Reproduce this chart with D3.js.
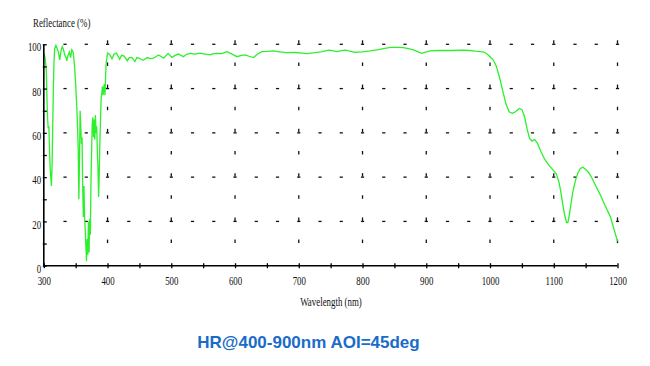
<!DOCTYPE html>
<html>
    <head>
        <script src="https://d3js.org/d3.v7.min.js"></script>
        <style>
            body { margin:0; background:white; }
            svg { display:block; }
            .axis text, .lbl { font-family:"Liberation Serif", serif; font-size:12px; fill:#111; }
            .axis path, .axis line { stroke:#000; }
            .title { font-family:"Liberation Sans", Arial, sans-serif; font-weight:bold; font-size:17px; fill:#1a6cc8; }
        </style>
    </head>
    <body>
        <svg width="650" height="366"></svg>
    </body>
    <script>
        // spectrum: wavelength (nm) and reflectance (%)
        const wavelength = [300,302,304,305,306,307,308,309,310,311,312,313,314,315,316,317,319,321,323,325,
            327,329,331,333,335,336,338,340,342,344,346,348,350,351,352,353,354,355,356,357,
            358,359,360,361,362,363,364,365,366,367,368,369,370,371,372,373,374,375,376,377,
            378,379,380,381,382,383,384,385,386,387,388,389,390,391,392,393,394,395,396,397,
            398,399,400,403,407,410,414,419,422,426,431,434,438,443,446,450,456,462,467,472,
            480,488,495,501,506,511,519,524,530,537,545,553,561,566,571,579,587,593,603,610,
            616,622,629,635,642,650,660,670,681,695,705,713,725,735,747,754,760,767,773,780,
            788,800,812,825,835,844,855,864,872,880,887,893,899,906,920,940,958,968,977,985,
            990,996,1000,1005,1010,1015,1020,1025,1030,1035,1040,1046,1050,1054,1058,1062,1066,1070,1074,1080,
            1086,1092,1098,1104,1108,1111,1114,1117,1120,1122,1124,1127,1130,1134,1138,1142,1146,1150,1155,1160,
            1166,1173,1180,1189,1195,1200];
        const reflectance = [96,94,88,75,66,62,63,52,44,40,36,46,63,80,92,98,99.5,98,96.5,93,
            97,99,97.5,95,94,92.5,95,96.5,94,97.5,96.5,91,82,76,70,62,53,30,48,70,
            63,55,58,36,22,36,22,16,9,2,12,5,20,6,21,14,38,52,64,67,
            58,66,57,68,60,63,52,44,31,42,56,66,76,78,81,77,80,82,77,86,
            92,94,96,95.5,93.5,95.5,96,93.2,95,94.7,92.6,94,94.1,92.2,94,93.7,92.8,94,93.5,93.7,
            95.2,93.7,95.9,94.1,95,95.6,94.4,95.5,95.9,95.6,96,95.6,95.2,95.8,95.9,95.8,96.7,95.9,94.4,95,
            95.2,94.6,94,95.5,96.7,96.8,97,96.6,96.2,96.3,96,95.8,96.2,96.6,97.4,97,96.7,97.1,97.4,96.9,
            96.4,96.6,97,97.6,98.2,98.6,98.6,98.5,98,97.5,96.6,95.9,96.5,97,97.2,97.2,97.4,97.2,96.9,96.7,
            96.5,95.5,94.4,93,90,85,79,73,69.5,68.8,69.5,71,70.5,67.5,62,57.5,56.3,57,55.5,51.5,
            48,45.5,43.5,41.5,38,33.5,28,23,19.5,19.4,22,28,33.5,38.5,42,44,44.5,43.5,42,39.5,
            36,32,27.5,22,16,11];

        const xMajor = d3.range(300, 1201, 100);
        const xMinor = d3.range(300, 1201, 50);
        const yMajor = [0, 20, 40, 60, 80, 100];
        const yMinor = d3.range(0, 101, 10);
        const hGrid = [20, 40, 60, 80, 100];
        const vGrid = d3.range(400, 1201, 100);

        const svg = d3.select('svg');
        const sx = 0.74; // the original lettering is squeezed horizontally

        const xScale = d3.scaleLinear().domain([300, 1200]).range([43.8, 617.5]);
        const yScale = d3.scaleLinear().domain([0, 100]).range([265.7, 44.3]);

        // dotted grid
        const grid = svg.append('g').attr('stroke', '#111').attr('stroke-width', 1.3);
        const hStep = d3.range(300 + 100/3, 1201, 100/3);
        hGrid.forEach(v => {
            grid.selectAll(null).data(hStep).enter().append('line')
                .attr('x1', d => xScale(d) - 1.6).attr('x2', d => xScale(d) + 1.6)
                .attr('y1', yScale(v)).attr('y2', yScale(v));
        });
        vGrid.forEach(w => {
            grid.selectAll(null).data(yMinor.slice(1)).enter().append('line')
                .attr('x1', xScale(w)).attr('x2', xScale(w))
                .attr('y1', d => yScale(d) - 4).attr('y2', d => yScale(d) - 0.5);
        });

        // spectrum
        const pts = wavelength.map((w, i) => [w, reflectance[i]]);
        svg.append('path')
            .datum(pts)
            .attr('fill', 'none')
            .attr('stroke', '#2cf02c')
            .attr('stroke-width', 1.3)
            .attr('d', d3.line().x(d => xScale(d[0])).y(d => yScale(d[1])));

        // axes
        const xAxis = d3.axisBottom(xScale).tickValues(xMinor).tickSize(3)
            .tickFormat(d => d % 100 === 0 ? d : '');
        const gx = svg.append('g').attr('class', 'axis')
            .attr('transform', `translate(0,${yScale(0)})`).call(xAxis);
        gx.select('.domain').attr('stroke-width', 1.6);
        gx.selectAll('.tick line').attr('y1', -2.5).attr('y2', 2.5).attr('stroke-width', 1.3);
        gx.selectAll('.tick text').attr('y', 11).attr('dy', '0.71em')
            .attr('transform', `scale(${sx},1)`);

        const yAxis = d3.axisLeft(yScale).tickValues(yMinor).tickSize(3)
            .tickFormat(d => yMajor.includes(d) ? d : '');
        const gy = svg.append('g').attr('class', 'axis')
            .attr('transform', `translate(${xScale(300)},0)`).call(yAxis);
        gy.select('.domain').attr('stroke-width', 1.6);
        gy.selectAll('.tick line').attr('x1', -1).attr('x2', 3).attr('stroke-width', 1.3);
        gy.selectAll('.tick text').attr('x', -3.5).attr('dy', '0.55em')
            .attr('transform', `scale(${sx},1)`);
        svg.selectAll('.domain').attr('d', function() {
            return d3.select(this).attr('d').replace(/M[^V H]*V?/, m => m);
        });
        gx.select('.domain').attr('d', `M${xScale(300)},0H${xScale(1200)}`);
        gy.select('.domain').attr('d', `M0,${yScale(100)}V${yScale(0)}`);

        // axis titles
        svg.append('g').attr('transform', 'translate(33,27)')
            .append('text').attr('class', 'lbl').attr('transform', `scale(${sx},1)`)
            .text('Reflectance (%)');
        svg.append('g').attr('transform', 'translate(331,306)')
            .append('text').attr('class', 'lbl').attr('text-anchor', 'middle')
            .attr('transform', `scale(${sx},1)`)
            .text('Wavelength (nm)');

        // caption
        svg.append('text').attr('class', 'title')
            .attr('x', 308.5).attr('y', 348).attr('text-anchor', 'middle')
            .text('HR@400-900nm AOI=45deg');
    </script>
</html>
